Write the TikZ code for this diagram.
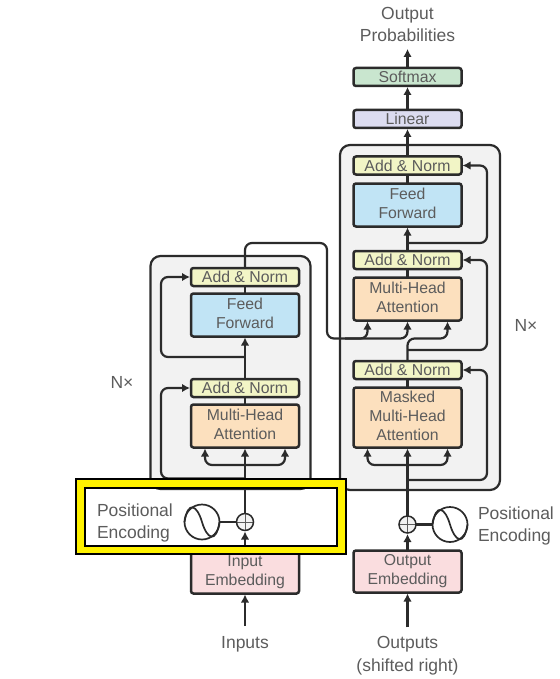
\documentclass[tikz,border=0pt]{standalone}
\usepackage{fontspec}
\setmainfont{Liberation Sans}
\usetikzlibrary{arrows.meta}
\definecolor{inkgray}{HTML}{5C5C5C}
\definecolor{linedark}{HTML}{2B2B2B}
\definecolor{blockgray}{HTML}{F2F2F2}
\definecolor{normfill}{HTML}{F2F5C6}
\definecolor{ffill}{HTML}{C1E4F5}
\definecolor{attnfill}{HTML}{FCE0BE}
\definecolor{embfill}{HTML}{FADDDF}
\definecolor{linfill}{HTML}{DCDCF0}
\definecolor{softfill}{HTML}{C9E6CF}
\newcommand{\sinewave}[1]{%
  \draw[line width=1.7pt,linedark]([shift={(-17.5,0)}]#1.center)
    .. controls ([shift={(-14,-22)}]#1.center) and ([shift={(-5,-17)}]#1.center) .. (#1.center)
    .. controls ([shift={(5,17)}]#1.center) and ([shift={(14,22)}]#1.center) .. ([shift={(17.5,0)}]#1.center);}
\tikzset{
  layer/.style={draw=linedark,line width=2.5pt,rounded corners=2.5pt,inner sep=0pt,outer sep=0pt,
    minimum width=108pt,text=inkgray,align=center,font=\fontsize{15.8}{19}\selectfont},
  addnorm/.style={layer,fill=normfill,minimum height=18pt},
  feedfwd/.style={layer,fill=ffill,minimum height=43pt,text depth=3pt},
  attn/.style={layer,fill=attnfill,minimum height=43pt,text depth=3pt},
  embed/.style={layer,fill=embfill,minimum height=42pt},
  block/.style={draw=linedark,fill=blockgray,line width=2.2pt,rounded corners=10pt,minimum width=160pt,inner sep=0pt,outer sep=0pt},
  conn/.style={line width=2.2pt,draw=linedark},
  arr/.style={conn,-{Latex[length=8pt,width=8.5pt]},shorten >=1pt},
  skiparr/.style={arr,rounded corners=7pt},
  sumnode/.style={circle,draw=linedark,line width=1.5pt,fill=blockgray,minimum size=17pt,inner sep=0pt,outer sep=0pt,
    path picture={\draw[inkgray,line width=1pt](path picture bounding box.north)--(path picture bounding box.south)
      (path picture bounding box.west)--(path picture bounding box.east);}},
  sinenode/.style={circle,draw=linedark,line width=1.7pt,minimum size=35pt,inner sep=0pt,outer sep=0pt},
  labeltext/.style={text=inkgray,align=center,inner sep=0pt,outer sep=0pt,font=\fontsize{17.5}{22.5}\selectfont},
}
\begin{document}
\begin{tikzpicture}[x=1pt,y=-1pt]
  \useasboundingbox (0,0) rectangle (559,679);
  % grey blocks
  \node[block,minimum height=233pt] (encblock) at (230.5,372.5) {};
  \node[block,minimum height=345pt] (decblock) at (420,317.5) {};
  % encoder
  \node[embed] (encemb) at (245,572.5) {Input\\Embedding};
  \node[attn] (encattn) at (245,426) {Multi-Head\\Attention};
  \node[addnorm] (encaddb) at (245,388) {Add \& Norm};
  \node[feedfwd] (encff) at (245,315) {Feed\\Forward};
  \node[addnorm] (encadda) at (245,277) {Add \& Norm};
  % decoder
  \node[embed] (decemb) at (407.5,571.5) {Output\\Embedding};
  \node[attn,minimum height=60pt] (decmask) at (407.5,417.5) {Masked\\Multi-Head\\Attention};
  \node[addnorm] (decaddc) at (407.5,370) {Add \& Norm};
  \node[attn] (decattn) at (407.5,299) {Multi-Head\\Attention};
  \node[addnorm] (decaddb) at (407.5,260) {Add \& Norm};
  \node[feedfwd] (decff) at (407.5,205) {Feed\\Forward};
  \node[addnorm] (decadda) at (407.5,165.5) {Add \& Norm};
  \node[layer,fill=linfill,minimum height=18pt] (linear) at (407.5,119) {Linear};
  \node[layer,fill=softfill,minimum height=18pt] (softmax) at (407.5,77) {Softmax};
  % outer labels
  \node[labeltext,outer ysep=6pt] (outprob) at (407.5,24.5) {Output\\Probabilities};
  \node[labeltext,outer ysep=10pt] (inputs) at (245,644) {Inputs};
  \node[labeltext,outer ysep=9pt] (outputs) at (407.5,655.5) {Outputs\\(shifted right)};
  \node[labeltext] (encnx) at (122,382) {N×};
  \node[labeltext] (decnx) at (526,325) {N×};
  \node[labeltext,align=left,anchor=west] (encpos) at (97,523) {Positional\\Encoding};
  \node[labeltext,align=left,anchor=west] (decpos) at (478,526) {Positional\\Encoding};
  % positional encoding
  \node[sumnode] (encplus) at (245,522) {};
  \node[sinenode] (encsine) at (202,522) {};
  \sinewave{encsine}
  \node[sumnode] (decplus) at (407.5,524.5) {};
  \node[sinenode] (decsine) at (450,524.5) {};
  \sinewave{decsine}
  % split points
  \coordinate (encskipb) at (245,478.5);
  \coordinate (encfork) at (245,465);
  \coordinate (encskipa) at (245,357);
  \coordinate (decskipc) at (407.5,480);
  \coordinate (decfork) at (407.5,465);
  \coordinate (decskipb) at (407.5,350);
  \coordinate (decskipa) at (407.5,243);
  \coordinate (crossa) at (327,243);
  \coordinate (crossb) at (345,338.5);
  \coordinate (crossc) at (427,338.5);
  % encoder connectors
  \draw[arr] (inputs.north)--(encemb.south);
  \draw[arr] (encemb.north)--(encplus.south);
  \draw[conn] (encsine)--(encplus);
  \draw[arr] (encplus.north)--(encattn.south);
  \draw[skiparr] (encfork)-|([xshift=-40pt]encattn.south);
  \draw[skiparr] (encfork)-|([xshift=40pt]encattn.south);
  \draw[skiparr] (encskipb)-|([xshift=-30pt]encaddb.west)--(encaddb.west);
  \draw[conn] (encattn)--(encaddb);
  \draw[arr] (encaddb)--(encff.south);
  \draw[skiparr] (encskipa)-|([xshift=-30pt]encadda.west)--(encadda.west);
  \draw[conn] (encff)--(encadda);
  % encoder to decoder
  \draw[skiparr] (encadda.north)|-(crossa)|-(crossb)-|([xshift=-40pt]decattn.south);
  \draw[skiparr] (crossb)-|(decattn.south);
  % decoder connectors
  \draw[arr] (outputs.north)--(decemb.south);
  \draw[arr] (decemb.north)--(decplus.south);
  \draw[conn] (decsine)--(decplus);
  \draw[arr] (decplus.north)--(decmask.south);
  \draw[skiparr] (decfork)-|([xshift=-40pt]decmask.south);
  \draw[skiparr] (decfork)-|([xshift=40pt]decmask.south);
  \draw[skiparr] (decskipc)-|([xshift=25.5pt]decaddc.east)--(decaddc.east);
  \draw[conn] (decmask)--(decaddc);
  \draw[skiparr] (decaddc.north)|-(crossc)-|([xshift=40pt]decattn.south);
  \draw[skiparr] (decskipb)-|([xshift=25.5pt]decaddb.east)--(decaddb.east);
  \draw[conn] (decattn)--(decaddb);
  \draw[arr] (decaddb)--(decff.south);
  \draw[skiparr] (decskipa)-|([xshift=25.5pt]decadda.east)--(decadda.east);
  \draw[conn] (decff)--(decadda);
  \draw[arr] (decadda)--(linear.south);
  \draw[arr] (linear)--(softmax.south);
  \draw[arr] (softmax)--(outprob.south);
  % yellow frame
  \draw[black,line width=2pt,fill=yellow,even odd rule] (76,479) rectangle (346,554) (85,488) rectangle (337,545.5);
\end{tikzpicture}
\end{document}
